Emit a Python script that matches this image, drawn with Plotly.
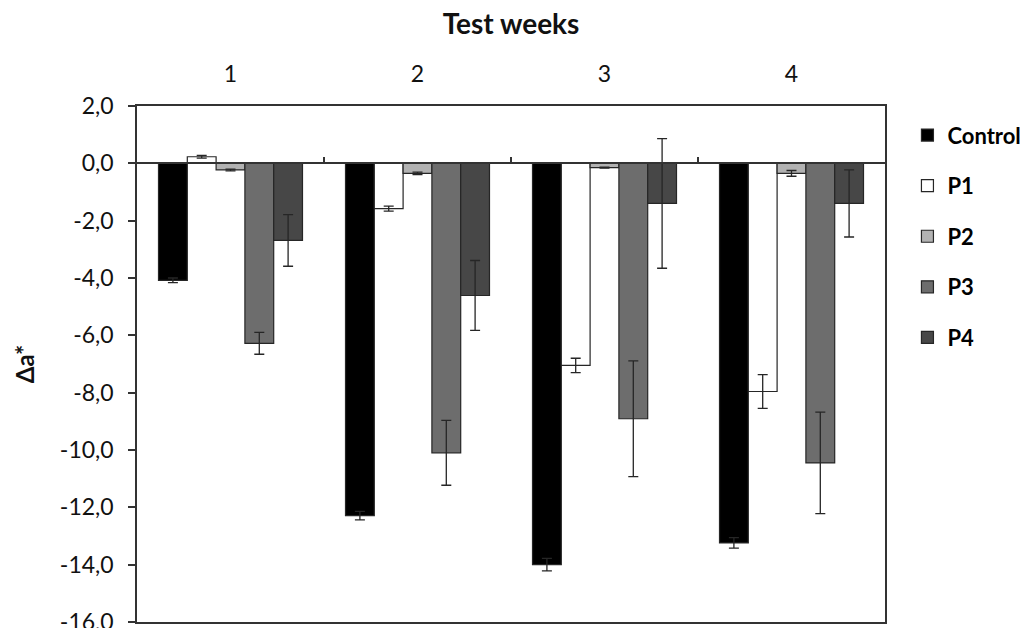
import plotly.graph_objects as go

weeks = ["1", "2", "3", "4"]
series = ["Control", "P1", "P2", "P3", "P4"]
control = [-4.08, -12.29, -14.0, -13.24]
control_err = [0.08, 0.15, 0.22, 0.18]
p1 = [0.23, -1.58, -7.05, -7.96]
p1_err = [0.05, 0.09, 0.25, 0.59]
p2 = [-0.23, -0.35, -0.15, -0.35]
p2_err = [0.03, 0.04, 0.02, 0.10]
p3 = [-6.28, -10.1, -8.91, -10.45]
p3_err = [0.38, 1.13, 2.02, 1.77]
p4 = [-2.69, -4.61, -1.40, -1.40]
p4_err = [0.90, 1.22, 2.26, 1.17]

y_tickvals = [2, 0, -2, -4, -6, -8, -10, -12, -14, -16]
y_ticktext = ["2,0", "0,0", "-2,0", "-4,0", "-6,0", "-8,0", "-10,0", "-12,0", "-14,0", "-16,0"]

values = [control, p1, p2, p3, p4]
errors = [control_err, p1_err, p2_err, p3_err, p4_err]
colors = ["#000000", "#ffffff", "#b2b2b2", "#6d6d6d", "#474747"]

xpos = [1, 2, 3, 4]
font_family = "Lato"

fig = go.Figure()
for name, vals, errs, col in zip(series, values, errors, colors):
    fig.add_trace(go.Bar(
        x=xpos, y=vals, name=name, legendgroup=name,
        marker=dict(color=col, line=dict(color="#262626", width=1.2)),
        error_y=dict(type="data", array=errs, visible=True,
                     color="#262626", thickness=1.3, width=5),
    ))

# invisible trace to activate the zero-line axis
fig.add_trace(go.Scatter(x=[1, 4], y=[0, 0], xaxis="x2", mode="lines",
                         line=dict(width=0), showlegend=False, hoverinfo="skip"))

fig.update_layout(
    width=1028, height=628,
    margin=dict(l=137, r=143, t=106, b=6, autoexpand=False),
    paper_bgcolor="white", plot_bgcolor="white",
    barmode="group", bargap=0.23, bargroupgap=0,
    font=dict(family=font_family, size=23, color="#111111"),
    showlegend=True,
    legend=dict(x=1.03, y=0.984, xanchor="left", yanchor="top",
                traceorder="grouped", tracegroupgap=19,
                font=dict(family=font_family, size=22, color="#000000", weight="bold"),
                itemwidth=30, bgcolor="rgba(0,0,0,0)"),
    xaxis=dict(
        range=[0.5, 4.5], side="top", tickvals=xpos, ticktext=weeks,
        ticks="", showline=True, mirror=True, linecolor="#333333", linewidth=1.5,
        showgrid=False, zeroline=False, ticklabelstandoff=13,
        tickfont=dict(size=23, color="#111111"),
        title=dict(text="Test weeks", standoff=16,
                   font=dict(size=28, weight="bold", color="#111111")),
    ),
    xaxis2=dict(
        range=[0.5, 4.5], overlaying="x", anchor="free", position=16/18,
        side="top", tickvals=[1.5, 2.5, 3.5], ticks="outside", ticklen=6,
        tickcolor="#333333", tickwidth=1.5, showticklabels=False,
        showline=True, linecolor="#333333", linewidth=1.5, showgrid=False,
        zeroline=False,
    ),
    yaxis=dict(
        range=[-16, 2], tickvals=y_tickvals, ticktext=y_ticktext,
        ticks="outside", ticklen=7, tickcolor="#333333", tickwidth=1.5,
        showline=True, mirror=True, linecolor="#333333", linewidth=1.5,
        showgrid=False, zeroline=False, ticklabelstandoff=10,
        ticklabeloverflow="allow",
        tickfont=dict(size=23, color="#111111"),
        title=dict(text="Δa*", standoff=18,
                   font=dict(size=24, weight="bold", color="#111111")),
    ),
)

fig.write_html("out.html", config={"displayModeBar": False},
               post_script="document.body.style.margin='0px';")
